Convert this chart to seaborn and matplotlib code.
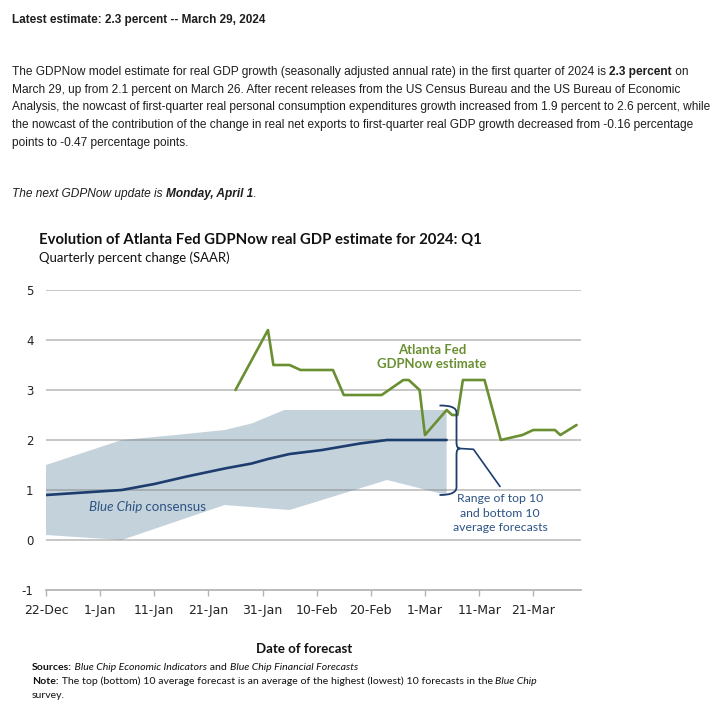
import numpy as np
import pandas as pd
import matplotlib
matplotlib.use("Agg")
import matplotlib.pyplot as plt
import matplotlib.dates as mdates
from matplotlib.path import Path
from matplotlib.patches import PathPatch
import seaborn as sns

# ---------------- data ----------------
gdpnow_dates = ["2024-01-26", "2024-02-01", "2024-02-02", "2024-02-05", "2024-02-07",
                "2024-02-13", "2024-02-15", "2024-02-22", "2024-02-26", "2024-02-27",
                "2024-02-29", "2024-03-01", "2024-03-05", "2024-03-06", "2024-03-07",
                "2024-03-08", "2024-03-12", "2024-03-15", "2024-03-19", "2024-03-21",
                "2024-03-25", "2024-03-26", "2024-03-29"]
gdpnow_values = [3.0, 4.2, 3.5, 3.5, 3.4, 3.4, 2.9, 2.9, 3.2, 3.2,
                 3.0, 2.1, 2.6, 2.5, 2.5, 3.2, 3.2, 2.0, 2.1, 2.2,
                 2.2, 2.1, 2.3]

consensus_dates = ["2023-12-22", "2023-12-29", "2024-01-05", "2024-01-11", "2024-01-17",
                   "2024-01-24", "2024-01-29", "2024-02-01", "2024-02-05", "2024-02-11",
                   "2024-02-18", "2024-02-23", "2024-03-05"]
consensus_values = [0.9, 0.95, 1.0, 1.12, 1.27, 1.43, 1.53, 1.62, 1.72, 1.8, 1.93, 2.0, 2.0]

top10_dates = ["2023-12-22", "2024-01-05", "2024-01-15", "2024-01-24", "2024-01-29",
               "2024-02-04", "2024-03-05"]
top10_values = [1.5, 2.0, 2.1, 2.2, 2.33, 2.6, 2.6]

bottom10_dates = ["2023-12-22", "2024-01-05", "2024-01-24", "2024-02-05", "2024-02-23",
                  "2024-03-05"]
bottom10_values = [0.1, 0.0, 0.7, 0.6, 1.2, 0.9]

xtick_dates = ["2023-12-22", "2024-01-01", "2024-01-11", "2024-01-21", "2024-01-31",
               "2024-02-10", "2024-02-20", "2024-03-01", "2024-03-11", "2024-03-21"]
xtick_labels = ["22-Dec", "1-Jan", "11-Jan", "21-Jan", "31-Jan",
                "10-Feb", "20-Feb", "1-Mar", "11-Mar", "21-Mar"]
ytick_values = [-1, 0, 1, 2, 3, 4, 5]
ytick_labels = ["-1", "0", "1", "2", "3", "4", "5"]

# ---------------- style ----------------
GREEN = "#6a8f32"
NAVY = "#1c3d6e"
BAND = "#c4d2db"
ANNOT_BLUE = "#2d5384"
TXT = "#1e1e1e"

sns.set_theme(style="white")
plt.rcParams["font.family"] = ["DejaVu Sans"]

W, H = 714, 701
fig = plt.figure(figsize=(W / 100, H / 100), dpi=100)
fig.patch.set_facecolor("white")
renderer = fig.canvas.get_renderer()

px_per_day = 5.414
ax_left, ax_right = 46, 46 + px_per_day * 98.8
ax_top, ax_bottom = 290, 590
ax = fig.add_axes([ax_left / W, 1 - ax_bottom / H, (ax_right - ax_left) / W,
                   (ax_bottom - ax_top) / H])
ax.set_facecolor("white")

gd = pd.DataFrame({"date": pd.to_datetime(gdpnow_dates), "value": gdpnow_values})
cd = pd.DataFrame({"date": pd.to_datetime(consensus_dates), "value": consensus_values})

# band
up_x = mdates.date2num(pd.to_datetime(top10_dates))
lo_x = mdates.date2num(pd.to_datetime(bottom10_dates))
ax.fill(np.concatenate([up_x, lo_x[::-1]]),
        np.concatenate([top10_values, bottom10_values[::-1]]),
        color=BAND, lw=0, zorder=1)

# gridlines
for v in ytick_values[1:]:
    ax.axhline(v, color="#7a7a7a", alpha=0.45, lw=1.3, zorder=2)

sns.lineplot(data=cd, x="date", y="value", ax=ax, color=NAVY, lw=1.9, zorder=3)
sns.lineplot(data=gd, x="date", y="value", ax=ax, color=GREEN, lw=1.9, zorder=4)

x0 = pd.Timestamp("2023-12-22")
ax.set_xlim(mdates.date2num(x0), mdates.date2num(x0) + 98.8)
ax.set_ylim(-1, 5)
ax.set_xticks(mdates.date2num(pd.to_datetime(xtick_dates)))
ax.set_xticklabels(xtick_labels, fontsize=9, color="#222222", family="DejaVu Sans")
ax.set_yticks(ytick_values)
ax.set_yticklabels(ytick_labels, fontsize=8.5, color="#222222", family="DejaVu Sans")
ax.set_xlabel("")
ax.set_ylabel("")
for s in ["top", "right", "left"]:
    ax.spines[s].set_visible(False)
ax.spines["bottom"].set_color("#b5b5b5")
ax.spines["bottom"].set_linewidth(1.3)
ax.tick_params(axis="x", length=4, width=1, color="#b5b5b5", pad=6, bottom=True)
ax.tick_params(axis="y", length=0, pad=9)


# ---------------- helpers ----------------
def to_data(px, py):
    return ax.transData.inverted().transform((px, H - py))


def measure(s, size, family, weight="normal", style="normal"):
    t = fig.text(0, 0, "|" + s + "|", fontsize=size, family=family,
                 fontweight=weight, fontstyle=style)
    t2 = fig.text(0, 0, "||", fontsize=size, family=family,
                  fontweight=weight, fontstyle=style)
    w = t.get_window_extent(renderer).width - t2.get_window_extent(renderer).width
    t.remove()
    t2.remove()
    return w


def runs_width(parts, size, family):
    return sum(measure(s, size, family, w, st) for s, w, st in parts)


def fit(parts, target, family, base=10):
    return base * target / runs_width(parts, base, family)


def put(x, y, parts, size, family, color=TXT, ha="left"):
    widths = [measure(s, size, family, w, st) for s, w, st in parts]
    total = sum(widths)
    cx = x - total / 2 if ha == "center" else x
    for (s, w, st), wd in zip(parts, widths):
        fig.text(cx / W, 1 - y / H, s, fontsize=size, family=family, fontweight=w,
                 fontstyle=st, color=color, va="center", ha="left")
        cx += wd


N, B, I = "normal", "bold", "italic"

# ---------------- page text ----------------
PF = ["Liberation Sans", "DejaVu Sans"]
put(12, 20, [("Latest estimate: 2.3 percent -- March 29, 2024", B, N)],
    fit([("Latest estimate: 2.3 percent -- March 29, 2024", B, N)], 253, PF), PF)

para = [
    [("The GDPNow model estimate for real GDP growth (seasonally adjusted annual rate) in the first quarter of 2024 is ", N, N),
     ("2.3 percent", B, N), (" on", N, N)],
    [("March 29, up from 2.1 percent on March 26. After recent releases from the US Census Bureau and the US Bureau of Economic", N, N)],
    [("Analysis, the nowcast of first-quarter real personal consumption expenditures growth increased from 1.9 percent to 2.6 percent, while", N, N)],
    [("the nowcast of the contribution of the change in real net exports to first-quarter real GDP growth decreased from -0.16 percentage", N, N)],
    [("points to -0.47 percentage points.", N, N)],
]
psize = fit(para[2], 698, PF)
for i, line in enumerate(para):
    put(12, 72 + i * 17.7, line, psize, PF)

put(12, 194, [("The next GDPNow update is ", N, I), ("Monday, April 1", B, I), (".", N, N)],
    psize, PF)

# ---------------- chart text ----------------
CF = ["Lato", "DejaVu Sans"]
title = [("Evolution of Atlanta Fed GDPNow real GDP estimate for 2024: Q1", B, N)]
put(39, 240, title, fit(title, 443, CF), CF, color="#111111")
sub = [("Quarterly percent change (SAAR)", N, N)]
put(39, 258, sub, fit(sub, 191, CF), CF, color="#111111")

asz = fit([("GDPNow estimate", B, N)], 110, CF)
put(432, 350, [("Atlanta Fed", B, N)], asz, CF, color=GREEN, ha="center")
put(432, 364.5, [("GDPNow estimate", B, N)], asz, CF, color=GREEN, ha="center")

bsz = fit([("Blue Chip", N, I), (" consensus", N, N)], 118, CF)
put(89, 507, [("Blue Chip", N, I), (" consensus", N, N)], bsz, CF, color=ANNOT_BLUE)

rsz = fit([("average forecasts", N, N)], 95, CF)
for i, s in enumerate(["Range of top 10", "and bottom 10", "average forecasts"]):
    put(500, 499 + i * 14.2, [(s, N, N)], rsz, CF, color=ANNOT_BLUE, ha="center")

dsz = fit([("Date of forecast", B, N)], 96, CF)
put(304, 649, [("Date of forecast", B, N)], dsz, CF, color="#111111", ha="center")

src = [("Sources:", B, N), (" Blue Chip Economic Indicators", N, I), (" and ", N, N),
       ("Blue Chip Financial Forecasts", N, I)]
note = [("Note:", B, N), (" The top (bottom) 10 average forecast is an average of the highest (lowest) 10 forecasts in the ", N, N),
        ("Blue Chip", N, I)]
fsz = fit(note, 501, CF)
put(32, 667, src, fsz, CF, color="#111111")
put(32, 681, note, fsz, CF, color="#111111")
put(32, 695, [("survey.", N, N)], fsz, CF, color="#111111")

# ---------------- brace + connector ----------------
brace_px = [
    ((439.5, 405.5), Path.MOVETO),
    ((451, 405.5), Path.CURVE4), ((456.5, 407.5), Path.CURVE4), ((456.5, 413), Path.CURVE4),
    ((456.5, 442), Path.LINETO),
    ((456.5, 446.5), Path.CURVE4), ((457.5, 448.3), Path.CURVE4), ((460, 448.5), Path.CURVE4),
    ((457.5, 448.7), Path.CURVE4), ((456.5, 450.5), Path.CURVE4), ((456.5, 455), Path.CURVE4),
    ((456.5, 487), Path.LINETO),
    ((456.5, 492.5), Path.CURVE4), ((451, 495), Path.CURVE4), ((439.5, 495), Path.CURVE4),
]
verts = [to_data(*p) for p, _ in brace_px]
codes = [c for _, c in brace_px]
ax.add_patch(PathPatch(Path(verts, codes), fill=False, edgecolor=NAVY, lw=1.3,
                       zorder=5, clip_on=False))
conn = np.array([to_data(460, 448.5), to_data(473.5, 449.3), to_data(500, 486.5)])
ax.plot(conn[:, 0], conn[:, 1], color=NAVY, lw=1.2, zorder=5, clip_on=False)

fig.savefig("out.png", dpi=100, facecolor="white")
